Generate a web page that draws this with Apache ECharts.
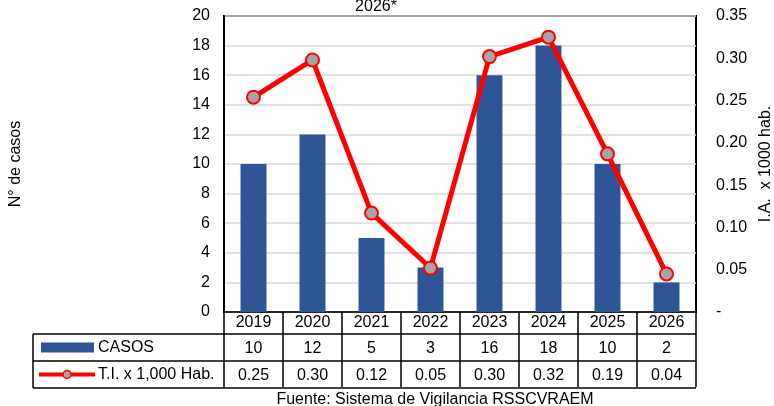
<!DOCTYPE html>
<html>
<head>
<meta charset="utf-8">
<script src="https://cdn.jsdelivr.net/npm/echarts@6/dist/echarts.min.js"></script>
<style>
  html, body { margin: 0; padding: 0; background: #fff; }
  #chart { width: 774px; height: 406px; }
</style>
</head>
<body>
<div id="chart"></div>
<script>
// Data
const years = ['2019', '2020', '2021', '2022', '2023', '2024', '2025', '2026'];
const casos = [10, 12, 5, 3, 16, 18, 10, 2];
const tasa = [0.254, 0.298, 0.117, 0.052, 0.302, 0.325, 0.187, 0.045];
const tasaLabels = ['0.25', '0.30', '0.12', '0.05', '0.30', '0.32', '0.19', '0.04'];

const BLUE = '#2F5597';
const RED = '#FF0000';
const FONT = 'Liberation Sans';
const FS = 16;

const chart = echarts.init(document.getElementById('chart'));

const grid = { left: 224, right: 78, top: 16, bottom: 94 };

const options = {
  animation: false,
  textStyle: { fontFamily: FONT },
  title: {
    text: '2026*',
    left: 371,
    top: -6,
    textAlign: 'center',
    textStyle: { fontFamily: FONT, fontSize: FS, fontWeight: 'normal', color: '#000' }
  },
  grid: {
    ...grid,
    outerBoundsMode: 'none',
    containLabel: false,
    show: true,
    borderColor: '#000',
    borderWidth: 2
  },
  xAxis: {
    type: 'category',
    data: years,
    axisLine: { lineStyle: { color: '#000', width: 1.5 } },
    axisTick: { show: true, interval: 0, length: 75, lineStyle: { color: '#000', width: 1.5 } },
    axisLabel: { color: '#000', fontSize: FS, margin: 3, interval: 0 }
  },
  yAxis: [
    {
      type: 'value',
      min: 0, max: 20, interval: 2,
      name: 'N° de casos',
      nameLocation: 'middle',
      nameGap: 200,
      nameTextStyle: { color: '#000', fontSize: FS },
      axisLine: { show: true, lineStyle: { color: '#000', width: 2 } },
      axisTick: { show: false },
      axisLabel: { color: '#000', fontSize: FS, margin: 14 },
      splitLine: { lineStyle: { color: '#D9D9D9', width: 1.5 } }
    },
    {
      type: 'value',
      min: 0, max: 0.35, interval: 0.05,
      name: 'I.A.  x 1000 hab.',
      nameLocation: 'middle',
      nameGap: 62,
      nameRotate: 90,
      nameTextStyle: { color: '#000', fontSize: FS },
      axisLine: { show: false },
      axisTick: { show: false },
      axisLabel: {
        color: '#000', fontSize: FS, margin: 20,
        formatter: v => (v === 0 ? '-' : v.toFixed(2))
      },
      splitLine: { show: false }
    }
  ],
  series: [
    {
      name: 'CASOS',
      type: 'bar',
      data: casos,
      barWidth: '44%',
      itemStyle: { color: BLUE }
    },
    {
      name: 'T.I. x 1,000 Hab.',
      type: 'line',
      yAxisIndex: 1,
      data: tasa,
      symbol: 'circle',
      symbolSize: 13,
      lineStyle: { color: RED, width: 5 },
      itemStyle: { color: '#A5A5A5', borderColor: RED, borderWidth: 2 }
    }
  ]
};

chart.setOption(options);

// Data table under the axis, laid out from the grid
function buildTable() {
  const W = 774, H = 406;
  const x1 = W - grid.right;
  const axisY = H - grid.bottom;
  const row1 = axisY + 22, row2 = row1 + 27, row3 = row2 + 27;
  const tableLeft = 33;
  const els = [];
  const line = (xa, ya, xb, yb) => els.push({
    type: 'line', shape: { x1: xa, y1: ya, x2: xb, y2: yb },
    style: { stroke: '#000', lineWidth: 1.5 }
  });
  line(tableLeft, row1, x1, row1);
  line(tableLeft, row2, x1, row2);
  line(tableLeft, row3, x1, row3);
  line(tableLeft, row1, tableLeft, row3);

  const txt = (x, y, s, align) => els.push({
    type: 'text', x: x, y: y,
    style: { text: s, fill: '#000', font: FS + 'px "' + FONT + '"', textAlign: align || 'center', textVerticalAlign: 'middle' }
  });
  years.forEach((yr, i) => {
    const cx = chart.convertToPixel({ xAxisIndex: 0 }, yr);
    txt(cx, (row1 + row2) / 2 + 1, String(casos[i]));
    txt(cx, (row2 + row3) / 2 + 1, tasaLabels[i]);
  });

  // legend keys
  const m1 = (row1 + row2) / 2, m2 = (row2 + row3) / 2;
  els.push({ type: 'rect', shape: { x: 41, y: m1 - 5, width: 53, height: 10 }, style: { fill: BLUE } });
  txt(98, m1, 'CASOS', 'left');
  els.push({ type: 'line', shape: { x1: 39, y1: m2, x2: 95, y2: m2 }, style: { stroke: RED, lineWidth: 4 } });
  els.push({ type: 'circle', shape: { cx: 67, cy: m2, r: 4 }, style: { fill: '#A5A5A5', stroke: RED, lineWidth: 1.5 } });
  txt(98, m2, 'T.I. x 1,000 Hab.', 'left');

  // source
  txt(435, 400, 'Fuente: Sistema de Vigilancia RSSCVRAEM');
  return els;
}

chart.setOption({ graphic: buildTable() });
</script>
</body>
</html>
